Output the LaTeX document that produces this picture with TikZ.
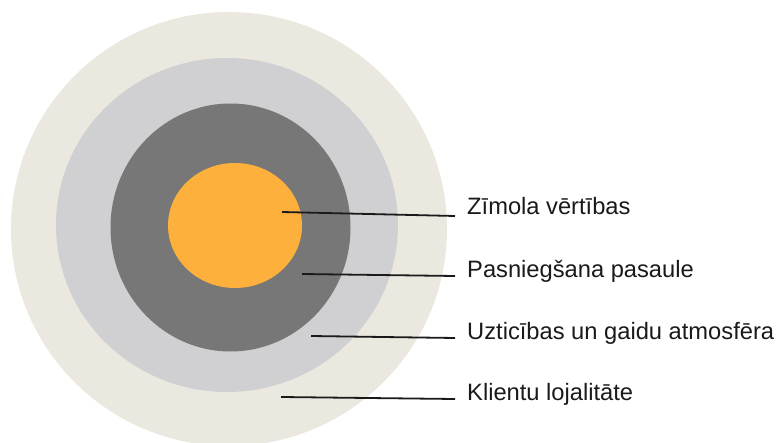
\documentclass[tikz,border=0pt]{standalone}
\usepackage{fontspec}
\setmainfont{Liberation Sans}
\definecolor{beige}{HTML}{EBE8DF}
\definecolor{lgray}{HTML}{D0D0D2}
\definecolor{dgray}{HTML}{777777}
\definecolor{orng}{HTML}{FDB03C}
\definecolor{ink}{HTML}{1A1A1A}
\begin{document}
\begin{tikzpicture}[x=1pt,y=-1pt,
  lbl/.style={anchor=base west,inner sep=0pt,font=\fontsize{23.7}{28}\selectfont,text=ink},
  leader/.style={draw=ink,line width=1.8pt}]
\useasboundingbox (0,0) rectangle (778,443);
\clip (0,0) rectangle (778,443);
\fill[white] (0,0) rectangle (778,443);
\fill[beige] (229,229) ellipse [x radius=218,y radius=217];
\fill[lgray] (227,225) ellipse [x radius=171,y radius=167];
\fill[dgray] (230.5,227.5) ellipse [x radius=120,y radius=124];
\fill[orng] (235,225.5) ellipse [x radius=67,y radius=62.5];
\coordinate (p1) at (282,212);
\coordinate (p2) at (302,274);
\coordinate (p3) at (311,336);
\coordinate (p4) at (281,397);
\coordinate (e1) at (455,216);
\coordinate (e2) at (455,276);
\coordinate (e3) at (455,338);
\coordinate (e4) at (455,399);
\draw[leader] (p1) -- (e1);
\draw[leader] (p2) -- (e2);
\draw[leader] (p3) -- (e3);
\draw[leader] (p4) -- (e4);
\node[lbl] (l1) at (467,215) {Zīmola vērtības};
\node[lbl] (l2) at (467,277) {Pasniegšana pasaule};
\node[lbl] (l3) at (467,339) {Uzticības un gaidu atmosfēra};
\node[lbl] (l4) at (467,400) {Klientu lojalitāte};
\end{tikzpicture}
\end{document}
